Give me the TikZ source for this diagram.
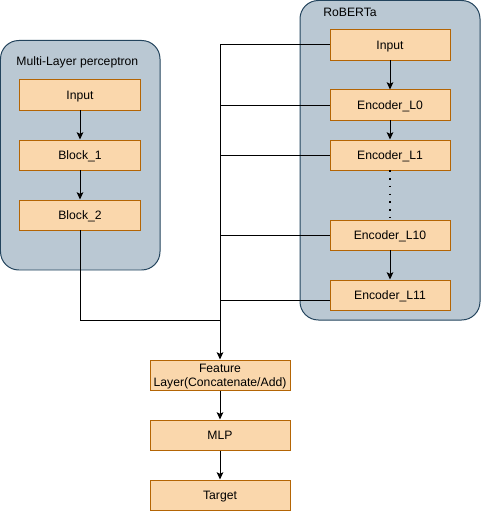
\documentclass[tikz,border=0pt]{standalone}
\usepackage{fontspec}
\setmainfont{Liberation Sans}
\usetikzlibrary{arrows.meta}
\definecolor{layerfill}{HTML}{FAD7AC}
\definecolor{layerline}{HTML}{B46504}
\definecolor{groupfill}{HTML}{BAC8D3}
\definecolor{groupline}{HTML}{23445D}

\begin{document}
\begin{tikzpicture}[x=0.03cm,y=-0.03cm,line width=0.85pt,
  layer/.style={draw=layerline, fill=layerfill, minimum width=3.6cm, minimum height=0.9cm, inner sep=0pt, align=center, text height=1.6ex, text depth=0pt, font=\fontsize{10.4}{12}\selectfont},
  group/.style={draw=groupline, fill=groupfill, rounded corners=0.55cm},
  flow/.style={-{Stealth[length=0.22cm,width=0.2cm,inset=0.05cm]}}]
\useasboundingbox (0,0) rectangle (482,512);

% Multi-Layer perceptron
\draw[group] (0.5,40.5) rectangle (160,270);
\node[anchor=west, font=\fontsize{10.4}{12}\selectfont] (mlptitle) at (12,62) {Multi-Layer perceptron};
\node[layer] (min) at (80,95) {Input};
\node[layer] (b1) at (80,155) {Block\_1};
\node[layer] (b2) at (80,215) {Block\_2};
\draw[flow] (min) -- (b1);
\draw[flow] (b1) -- (b2);

% RoBERTa
\draw[group] (300,0.5) rectangle (480,320);
\node[font=\fontsize{10.4}{12}\selectfont] (robtitle) at (350,12) {RoBERTa};
\node[layer] (rin) at (390,45) {Input};
\node[layer] (l0) at (390,105) {Encoder\_L0};
\node[layer] (l1) at (390,155) {Encoder\_L1};
\node[layer] (l10) at (390,235) {Encoder\_L10};
\node[layer] (l11) at (390,295) {Encoder\_L11};
\draw[flow] (rin) -- (l0);
\draw[flow] (l0) -- (l1);
\draw[line width=1.2pt, dash pattern=on 1.2pt off 5.4pt] (l1) -- (l10);
\draw[flow] (l10) -- (l11);

% Collecting the features
\coordinate (bus) at (220,320);
\draw (rin.west) -| (bus);
\draw (l0.west) -| (bus);
\draw (l1.west) -| (bus);
\draw (l10.west) -| (bus);
\draw ([yshift=-0.15cm]l11.west) -| (bus);
\draw (b2.south) |- (bus);

% Head
\node[layer, minimum width=4.2cm, text height={}] (feat) at (220,375) {Feature\\Layer(Concatenate/Add)};
\node[layer, minimum width=4.2cm] (mlp) at (220,435) {MLP};
\node[layer, minimum width=4.2cm] (target) at (220,495) {Target};
\draw[flow] (bus) -- (feat);
\draw[flow] (feat) -- (mlp);
\draw[flow] (mlp) -- (target);
\end{tikzpicture}
\end{document}
